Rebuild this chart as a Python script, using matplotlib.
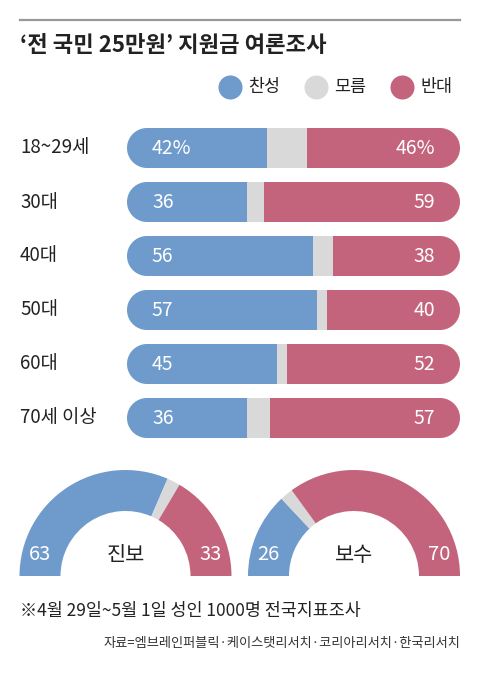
import numpy as np
import matplotlib.pyplot as plt
from matplotlib.patches import Polygon

plt.rcParams['font.family'] = ['Noto Sans CJK KR', 'DejaVu Sans']

groups = ['18~29세', '30대', '40대', '50대', '60대', '70세 이상']
agree = [42, 36, 56, 57, 45, 36]
dunno = [12, 5, 6, 3, 3, 7]
oppose = [46, 59, 38, 40, 52, 57]

camps = ['진보', '보수']
camp_agree = [63, 26]
camp_dunno = [4, 4]
camp_oppose = [33, 70]

legend_labels = ['찬성', '모름', '반대']
BLUE, GRAY, RED = '#6E9BCB', '#D9D9D9', '#C4647C'
INK = '#222222'

W, H = 480, 675


def rect(x0, y0, x1, y1):
    # pixel box (top-left origin) -> figure fraction
    return [x0 / W, 1 - y1 / H, (x1 - x0) / W, (y1 - y0) / H]


def pill_patch(ax, y, h, rx, x0=0, x1=100):
    t = np.linspace(-np.pi / 2, np.pi / 2, 40)
    right = np.column_stack([x1 - rx + rx * np.cos(t), y + h / 2 * np.sin(t)])
    left = np.column_stack([x0 + rx - rx * np.cos(t), y - h / 2 * np.sin(t)])
    return Polygon(np.vstack([right, left]), closed=True, transform=ax.transData)


fig = plt.figure(figsize=(W / 100, H / 100), dpi=100)

# overlay for title, rule, legend and notes
over = fig.add_axes([0, 0, 1, 1])
over.set_xlim(0, W)
over.set_ylim(H, 0)
over.axis('off')
over.plot([20, 460], [20, 20], color='#999999', lw=1.6)
over.text(20, 45, '‘전 국민 25만원’ 지원금 여론조사', fontsize=16, fontweight='bold',
          color=INK, va='center', ha='left')
for x, lab, c in zip([230, 316, 402], legend_labels, [BLUE, GRAY, RED]):
    over.scatter([x], [87], s=300, color=c, lw=0)
    over.text(x + 18, 87, lab, fontsize=12.5, color=INK, va='center', ha='left')
over.text(20, 611, '※4월 29일~5월 1일 성인 1000명 전국지표조사', fontsize=12.5,
          color=INK, va='center', ha='left')
over.text(460, 644, '자료=엠브레인퍼블릭·케이스탯리서치·코리아리서치·한국리서치',
          fontsize=9.5, color='#333333', va='center', ha='right')

# horizontal bars
bx0, bx1, row0, step, bh_px = 127, 460, 148, 54, 40
ax = fig.add_axes(rect(bx0, row0 - step / 2, bx1, row0 + step * 5.5))
ax.set_xlim(0, 100)
ax.set_ylim(5.5, -0.5)
ax.axis('off')
h = bh_px / step
px_per_x = (bx1 - bx0) / 100
r_x = (bh_px / 2) / px_per_x
for i, g in enumerate(groups):
    pill = pill_patch(ax, i, h, r_x)
    bars = [ax.barh(i, agree[i], height=h, color=BLUE, lw=0),
            ax.barh(i, dunno[i], left=agree[i], height=h, color=GRAY, lw=0),
            ax.barh(i, oppose[i], left=agree[i] + dunno[i], height=h, color=RED, lw=0)]
    for b in bars:
        for p in b:
            p.set_clip_path(pill)
    suf = '%' if i == 0 else ''
    ax.text(7.5, i, f'{agree[i]}{suf}', color='white', fontsize=14,
            fontweight='medium', va='center', ha='left')
    ax.text(92.5, i, f'{oppose[i]}{suf}', color='white', fontsize=14,
            fontweight='medium', va='center', ha='right')
    fig.text(20 / W, 1 - (row0 + step * i) / H, g, fontsize=13.5, color=INK,
             va='center', ha='left')

# half donuts
R, ring = 106, 41
for cx, name, a, d, o in zip([125.5, 354], camps, camp_agree, camp_dunno, camp_oppose):
    dax = fig.add_axes(rect(cx - R, 576 - R, cx + R, 576))
    total = a + d + o
    dax.pie([a, d, o, total], colors=[BLUE, GRAY, RED, 'none'], startangle=180,
            counterclock=False, radius=1,
            wedgeprops=dict(width=ring / R, linewidth=0))
    dax.set_xlim(-1, 1)
    dax.set_ylim(0, 1)
    dax.set_aspect('auto')
    dax.axis('off')
    mid = 1 - ring / R / 2
    ly = 21 / R
    dax.text(-mid, ly, str(a), color='white', fontsize=14.5, fontweight='medium',
             ha='center', va='center')
    dax.text(mid, ly, str(o), color='white', fontsize=14.5, fontweight='medium',
             ha='center', va='center')
    dax.text(0, ly, name, color=INK, fontsize=15, ha='center', va='center')

fig.savefig('out.png', dpi=100)
